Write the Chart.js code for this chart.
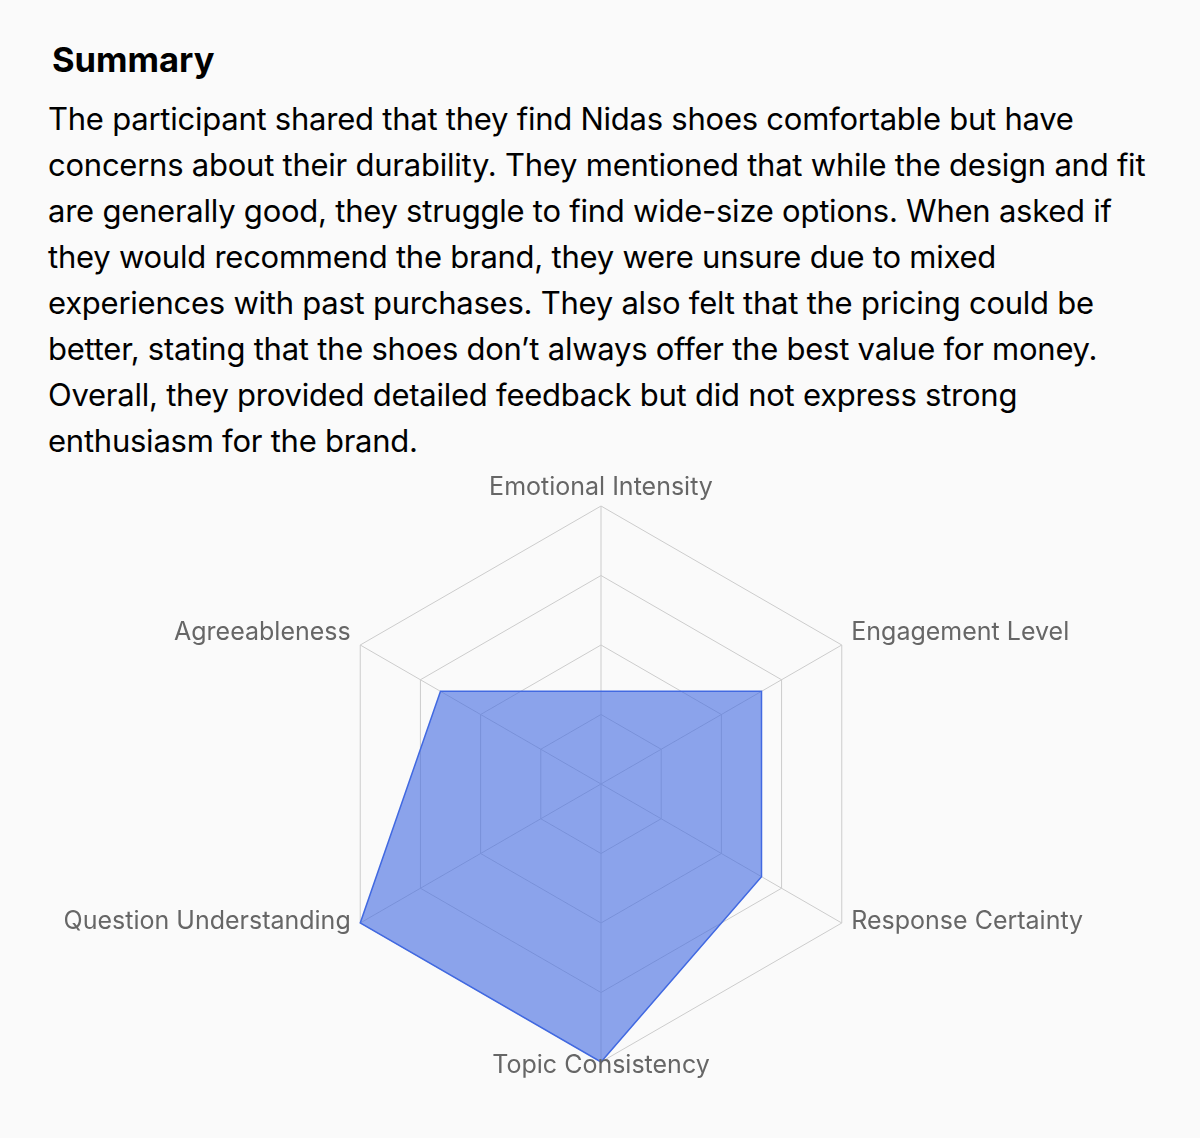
<!DOCTYPE html>
<html>
<head>
<meta charset="utf-8">
<script src="https://cdn.jsdelivr.net/npm/chart.js@4/dist/chart.umd.min.js"></script>
<style>
  html, body { margin: 0; padding: 0; background: #fafafa; }
  body { width: 1200px; height: 1138px; position: relative; overflow: hidden; font-family: Inter, "Noto Sans", sans-serif; color: #000; }
  #title { position: absolute; left: 52px; top: 40px; font-size: 34.5px; line-height: 40px; font-weight: 700; }
  #summary { position: absolute; left: 48px; top: 96px; width: 1104px; font-size: 31px; line-height: 46px; font-weight: 400; letter-spacing: -0.24px; }
  #chartWrap { position: absolute; left: 0; top: 460px; width: 1200px; height: 648px; }
</style>
</head>
<body>
<div id="title">Summary</div>
<div id="summary">The participant shared that they find Nidas shoes comfortable but have concerns about their durability. They mentioned that while the design and fit are generally good, they struggle to find wide-size options. When asked if they would recommend the brand, they were unsure due to mixed experiences with past purchases. They also felt that the pricing could be better, stating that the shoes don’t always offer the best value for money. Overall, they provided detailed feedback but did not express strong enthusiasm for the brand.</div>
<div id="chartWrap"><canvas id="c" width="1200" height="648"></canvas></div>
<script>
const categories = ["Emotional Intensity", "Engagement Level", "Response Certainty", "Topic Consistency", "Question Understanding", "Agreeableness"];
const scores = [1, 2, 2, 3, 3, 2];
const scaleMax = 3;
const scaleStep = 0.75;

const labelPlugin = {
  id: 'rechartsLabels',
  afterDraw(chart) {
    const s = chart.scales.r;
    const ctx = chart.ctx;
    ctx.save();
    ctx.font = '25px Inter';
    ctx.fillStyle = '#666666';
    ctx.textBaseline = 'alphabetic';
    s._pointLabels.forEach((lab, i) => {
      const p = s.getPointPosition(i, s.drawingArea + 11);
      const dx = p.x - s.xCenter;
      ctx.textAlign = Math.abs(dx) < 1 ? 'center' : (dx > 0 ? 'left' : 'right');
      ctx.fillText(lab, p.x, p.y);
    });
    ctx.restore();
  }
};

new Chart(document.getElementById('c'), {
  type: 'radar',
  data: {
    labels: categories,
    datasets: [{
      data: scores,
      backgroundColor: 'rgba(65,105,225,0.6)',
      borderColor: 'rgb(65,105,225)',
      borderWidth: 1.5,
      pointRadius: 0,
      pointHoverRadius: 0,
      fill: true
    }]
  },
  options: {
    responsive: false,
    animation: false,
    devicePixelRatio: 1,
    layout: { padding: { top: 46, bottom: 46, left: 2, right: 0 } },
    plugins: { legend: { display: false }, tooltip: { enabled: false } },
    scales: {
      r: {
        min: 0,
        max: scaleMax,
        beginAtZero: true,
        ticks: { display: false, stepSize: scaleStep },
        grid: { color: '#cccccc', lineWidth: 1 },
        angleLines: { color: '#cccccc', lineWidth: 1 },
        pointLabels: { display: false }
      }
    }
  },
  plugins: [labelPlugin]
});
</script>
</body>
</html>
